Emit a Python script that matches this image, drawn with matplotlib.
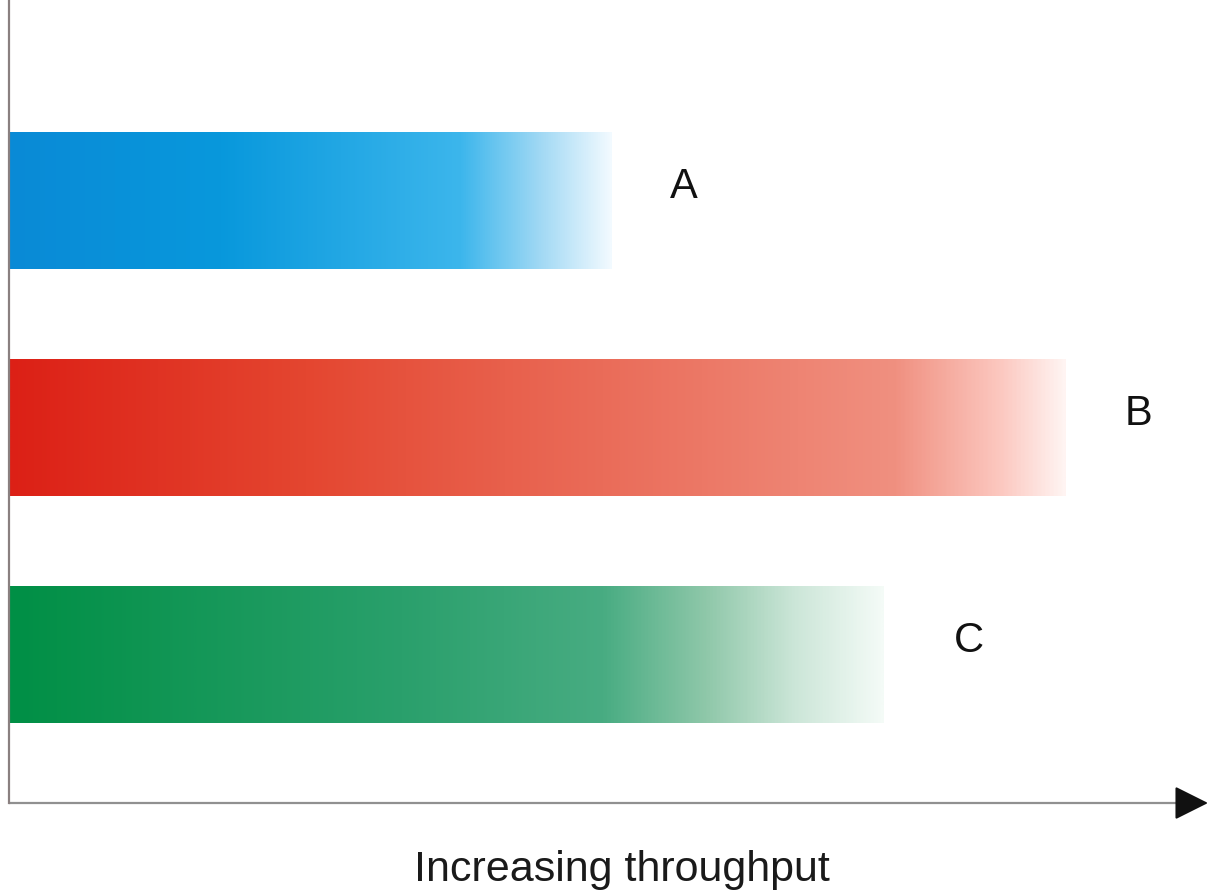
import numpy as np
import matplotlib
matplotlib.use("Agg")
import matplotlib.pyplot as plt
from matplotlib.colors import LinearSegmentedColormap
from matplotlib.patches import ArrowStyle

plt.rcParams["font.family"] = ["Liberation Sans", "DejaVu Sans"]

# Data (bar length, arbitrary throughput units)
labels = ["C", "B", "A"]
throughput = [875, 1057, 603]

# gradient stops (fraction along bar, colour) for each bar
stops = {
    "A": [(0.0, "#0a8ad6"), (0.35, "#0898dc"), (0.75, "#3cb6ec"),
          (0.88, "#9fd8f4"), (1.0, "#f2faff")],
    "B": [(0.0, "#dc2016"), (0.28, "#e44630"), (0.47, "#e8604c"),
          (0.84, "#f09080"), (0.94, "#fcc8c0"), (1.0, "#fff4f2")],
    "C": [(0.0, "#008f45"), (0.45, "#2aa06c"), (0.68, "#48ac82"),
          (0.80, "#90c8aa"), (0.90, "#cce6d8"), (1.0, "#f4fbf7")],
}
label_gap = {"A": 72, "B": 72, "C": 85}

fig = plt.figure(figsize=(12.13, 8.93), dpi=100)
ax = fig.add_axes([9 / 1213, 90 / 893, 1204 / 1213, 803 / 893])

bar_h = 0.6
grad = np.linspace(0, 1, 512).reshape(1, -1)
for i, (lab, val) in enumerate(zip(labels, throughput)):
    cmap = LinearSegmentedColormap.from_list("g" + lab, stops[lab])
    ax.imshow(grad, cmap=cmap, aspect="auto", interpolation="bilinear",
              extent=(0, val, i - bar_h / 2, i + bar_h / 2))
    ax.text(val + label_gap[lab], i + 0.06, lab, fontsize=30, va="center",
            ha="center", color="#111111")

ylo = -0.652
ax.set_xlim(0, 1204)
ax.set_ylim(ylo, 2.885)
ax.set_xticks([])
ax.set_yticks([])
for s in ["top", "right", "bottom"]:
    ax.spines[s].set_visible(False)
ax.spines["left"].set_color("#8a8080")
ax.spines["left"].set_linewidth(1.6)

# throughput axis with arrow head
ax.plot([0, 1172], [ylo, ylo], color="#909090", lw=1.6, clip_on=False,
        solid_capstyle="butt")
ax.annotate("", xy=(1199, ylo), xytext=(1168, ylo),
            arrowprops=dict(arrowstyle=ArrowStyle("-|>", head_length=1.0, head_width=0.5),
                            mutation_scale=21, color="#111111", lw=1.5,
                            shrinkA=0, shrinkB=0),
            annotation_clip=False)

fig.text(622 / 1213, 1 - 870 / 893, "Increasing throughput", fontsize=31,
         ha="center", va="center", color="#1a1a1a")

fig.savefig("out.png", dpi=100)
